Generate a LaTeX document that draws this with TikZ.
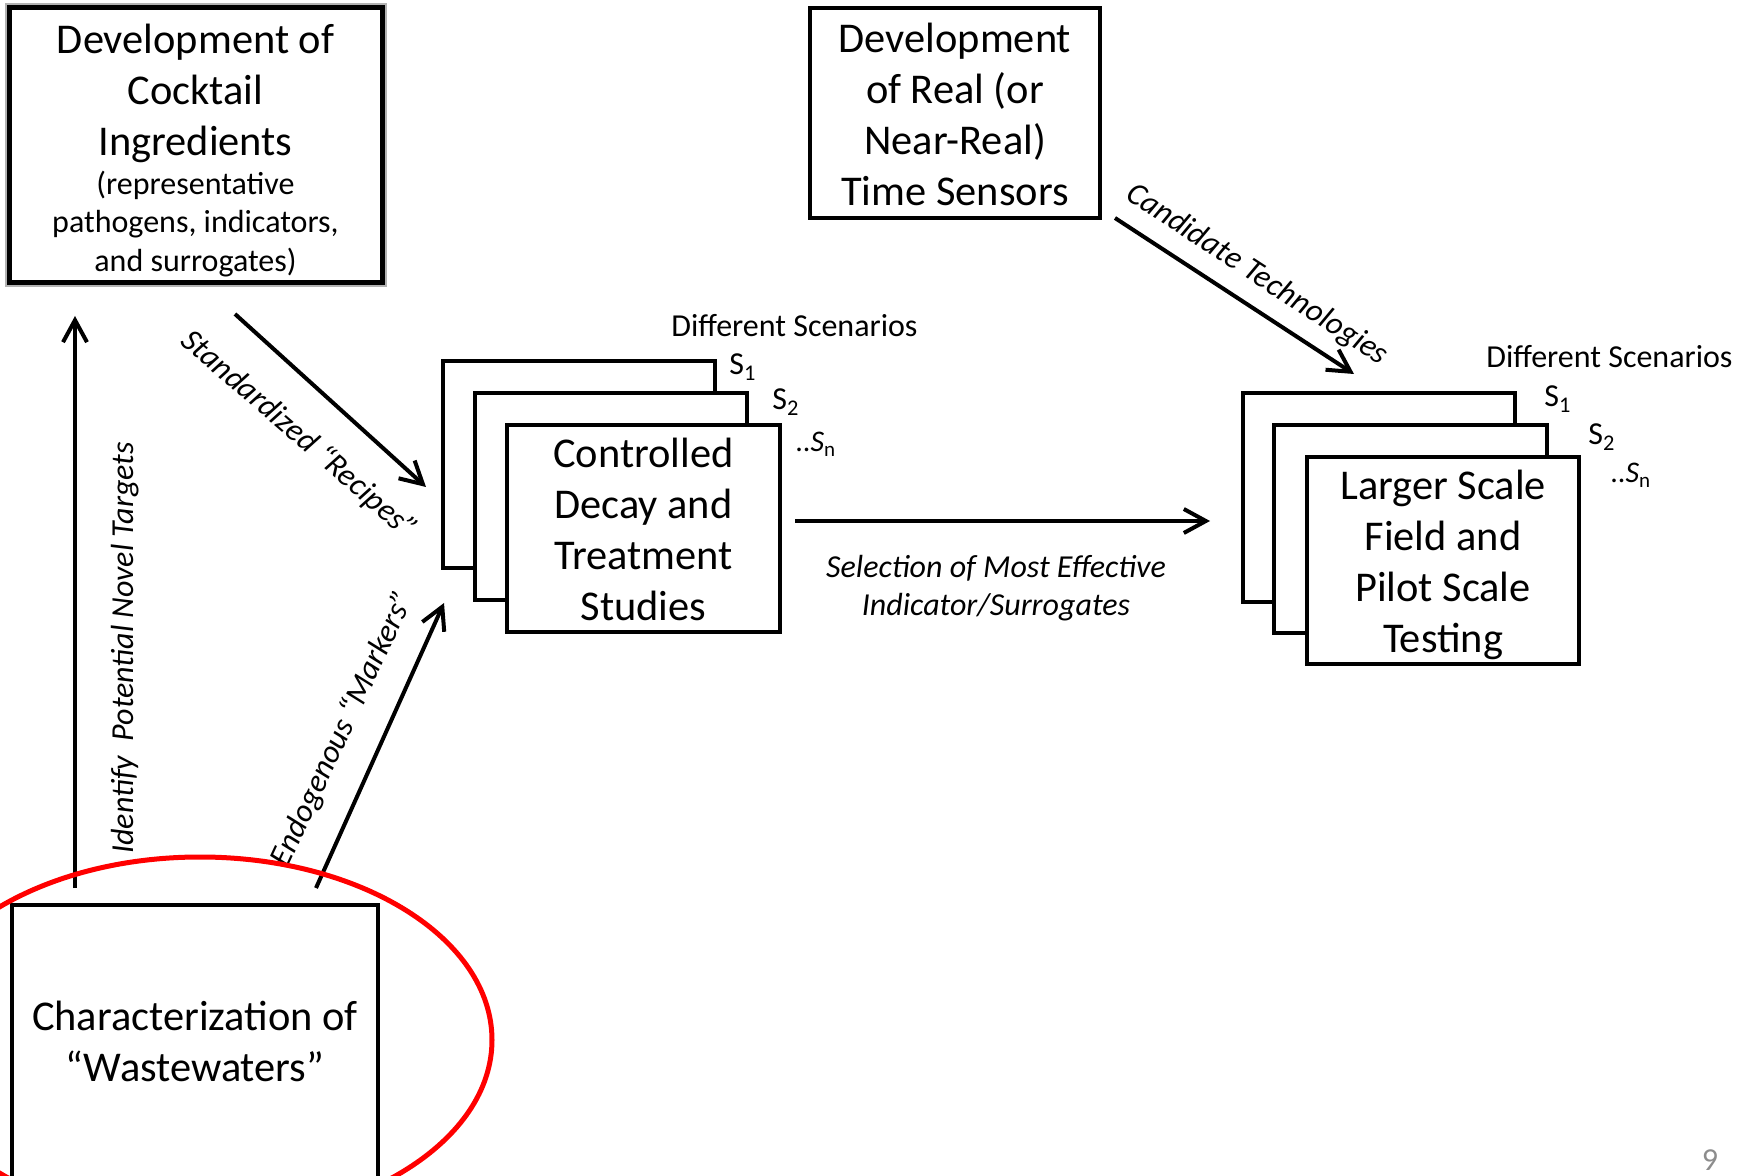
\documentclass[tikz,border=0pt]{standalone}
\usepackage{fontspec}
\setmainfont{Carlito}
\usetikzlibrary{arrows.meta}
\begin{document}
\begin{tikzpicture}[x=0.5pt,y=-0.5pt,
  box/.style={draw, line width=2.2pt, fill=white, inner sep=0pt},
  arr/.style={line width=2pt, -{Straight Barb[length=11pt,width=12pt]}},
  big/.style={align=center, font=\fontsize{21.2}{25.5}\selectfont},
  small/.style={align=center, font=\fontsize{16}{19.3}\selectfont},
  lbl/.style={font=\fontsize{16}{19}\selectfont\itshape},
  sellbl/.style={align=center, font=\fontsize{16}{19}\selectfont\itshape},
  scen/.style={anchor=base west, inner sep=0pt, font=\fontsize{16}{18}\selectfont},
  sidx/.style={anchor=base west, inner sep=0pt, font=\fontsize{16}{18}\selectfont},
  sndx/.style={anchor=base west, inner sep=0pt, font=\fontsize{15}{18}\selectfont}]
\useasboundingbox (0,0) rectangle (1752,1176);
\clip (0,0) rectangle (1752,1176);

% Cocktail box with glow
\draw[black!30, line width=4.5pt] (9,8) rectangle (382,283);
\node[box, line width=2.5pt, minimum width=186.5pt, minimum height=137.5pt] (cock) at (195.5,145.5) {};
\node[big] (cockt) at (195.5,93) {Development of\\Cocktail\\Ingredients};
\node[small] (cocks) at (195.5,224) {(representative\\pathogens, indicators,\\and surrogates)};

% Sensors box
\node[box, minimum width=145pt, minimum height=105pt] (sens) at (955,113) {};
\node[big] (senst) at (955,114) {Development\\of Real (or\\Near-Real)\\Time Sensors};

% Stack 1
\node[box, minimum width=136pt, minimum height=103.5pt] (s1a) at (579,464.5) {};
\node[box, minimum width=136pt, minimum height=103.5pt] (s1b) at (611,496.5) {};
\node[box, minimum width=136.5pt, minimum height=103.5pt] (ctrl) at (643.5,528.5) {};
\node[big] (ctrlt) at (643.5,529) {Controlled\\Decay and\\Treatment\\Studies};
\node[scen] (ds1) at (671,337) {Different Scenarios};
\node[sidx] (s1i) at (729,375) {S\textsubscript{1}};
\node[sidx] (s1ii) at (772,410) {S\textsubscript{2}};
\node[sndx] (s1n) at (795,452) {..\textit{S}\textsubscript{n}};

% Stack 2
\node[box, minimum width=136pt, minimum height=104.5pt] (s2a) at (1379,497.5) {};
\node[box, minimum width=136.5pt, minimum height=104pt] (s2b) at (1410.5,529) {};
\node[box, minimum width=136pt, minimum height=103.5pt] (field) at (1443,560.5) {};
\node[big] (fieldt) at (1443,565) {Larger Scale\\Field and\\Pilot Scale\\Testing};
\node[scen] (ds2) at (1486,368) {Different Scenarios};
\node[sidx] (s2i) at (1544,407) {S\textsubscript{1}};
\node[sidx] (s2ii) at (1588,445) {S\textsubscript{2}};
\node[sndx] (s2n) at (1610,483) {..\textit{S}\textsubscript{n}};

% Wastewater box
\node[box, minimum width=183pt, minimum height=142.5pt] (ww) at (195,1047.5) {};
\node[big] (wwt) at (195,1041) {Characterization of\\“Wastewaters”};

% connector endpoints
\coordinate (idS) at (75,888);
\coordinate (idE) at (75,316);
\coordinate (stS) at (235,314);
\coordinate (stE) at (426,487);
\coordinate (enS) at (316,888);
\coordinate (enE) at (444,603);
\coordinate (caS) at (1115,218);
\coordinate (caE) at (1354,374);
\coordinate (seS) at (795,521);
\coordinate (seE) at (1210,521);

\draw[arr] (idS) -- (idE);
\draw[arr] (stS) -- (stE);
\draw[arr] (enS) -- (enE);
\draw[arr] (caS) -- (caE);
\draw[arr] (seS) -- (seE);

\node[lbl, rotate=90] (idl) at (125,648) {Identify\ \ Potential Novel Targets};
\node[lbl, rotate=-41] (stl) at (299,435) {Standardized “Recipes”};
\node[lbl, rotate=65] (enl) at (343,729) {Endogenous “Markers”};
\node[lbl, rotate=-33] (cal) at (1257,275) {Candidate Technologies};
\node[sellbl] (sel) at (996,588) {Selection of Most Effective\\Indicator/Surrogates};

% red ellipse
\draw[red, line width=2.5pt] (200,1040) ellipse [x radius=292, y radius=183];

% page number
\node[anchor=base, text=black!45, font=\fontsize{16}{18}\selectfont] (pg) at (1710,1170) {9};
\end{tikzpicture}
\end{document}
